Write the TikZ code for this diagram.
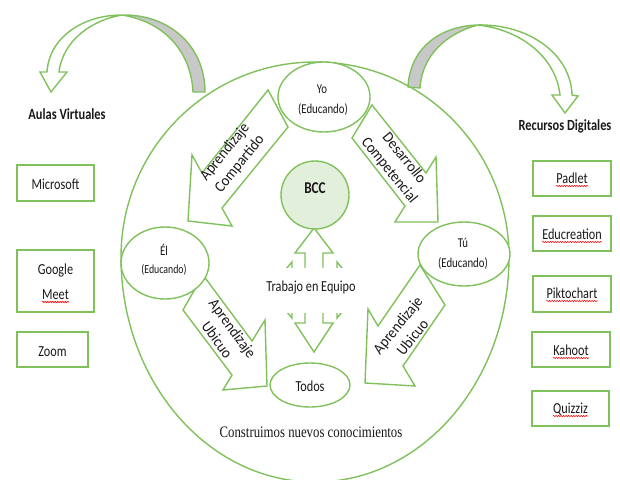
\documentclass[tikz,border=0pt]{standalone}
\usepackage{fontspec}
\setmainfont{Carlito}
\newfontfamily\condf[FakeStretch=0.8]{Carlito}
\newfontfamily\arrf[FakeStretch=0.92]{Carlito}
\newfontfamily\timesf[FakeStretch=0.8]{Liberation Serif}
\usetikzlibrary{shapes.geometric,calc,decorations.pathmorphing}
\definecolor{lgreen}{RGB}{128,193,92}
\definecolor{bccfill}{RGB}{226,239,218}
\definecolor{tailgray}{RGB}{200,200,200}
\definecolor{txt}{RGB}{25,25,25}
\begin{document}
\begin{tikzpicture}[x=1pt,y=-1pt,
  gline/.style={draw=lgreen, line width=1.4pt},
  blockarr/.style={gline, fill=white, line join=miter},
  tailpart/.style={gline, fill=tailgray},
  oval/.style={ellipse, gline, fill=white, inner sep=0pt},
  itembox/.style={rectangle, gline, fill=white, inner sep=0pt},
  lbl/.style={inner sep=0pt, anchor=base, text=txt, font=\condf\fontsize{15.3}{18}\selectfont},
  small/.style={inner sep=0pt, anchor=base, text=txt, font=\condf\fontsize{13.5}{16}\selectfont},
  arrtext/.style={align=center, inner sep=0pt, text=txt, font=\arrf\fontsize{15.5}{19}\selectfont},
  heading/.style={inner sep=0pt, anchor=base, text=txt, font=\condf\fontsize{15.5}{18}\selectfont\bfseries},
  squig/.style={draw=red, line width=0.6pt, decorate, decoration={snake, amplitude=0.6pt, segment length=2.5pt}}]
\fill[white] (0,0) rectangle (620,479);
\useasboundingbox (0,0) rectangle (620,479);

% big outline
\draw[gline] (121,257) arc[start angle=180, end angle=360, x radius=194, y radius=195]
  arc[start angle=0, end angle=180, x radius=194, y radius=225];

% curved arrows
\draw[tailpart] (122,15) .. controls (168,14) and (205,45) .. (205,92) -- (193,92)
  .. controls (191,52) and (165,22) .. (122,15) -- cycle;
\draw[blockarr] (122,15) .. controls (82,15) and (49,38) .. (47,72) -- (40,72) -- (51,92)
  -- (67,72) -- (59,72) .. controls (63,40) and (92,20) .. (122,15) -- cycle;
\draw[tailpart] (478,25) .. controls (440,26) and (410,48) .. (408,87) -- (420,88)
  .. controls (422,55) and (447,33) .. (478,25) -- cycle;
\draw[blockarr] (478,25) .. controls (530,24) and (571,55) .. (572,95) -- (578,96) -- (565,113)
  -- (552,95) -- (560,95) .. controls (556,58) and (522,30) .. (478,25) -- cycle;

% block arrows
\draw[blockarr] (268,90) -- (288,127) -- (222,208) -- (232,226) -- (188,221) -- (192,155) -- (202,173) -- cycle;
\draw[blockarr] (372,105) -- (352,138) -- (405,206) -- (395,222) -- (438,222) -- (436,157) -- (426,173) -- cycle;
\draw[blockarr] (203,275) -- (252,341) -- (265,320) -- (267,386) -- (223,390) -- (232,375) -- (183,310) -- cycle;
\draw[blockarr] (420,265) -- (378,326) -- (368,309) -- (365,383) -- (415,386) -- (403,366) -- (445,305) -- cycle;

% quad arrow
\draw[blockarr] (314,228) -- (333,253) -- (323,253) -- (323,281) -- (337,281) -- (337,262) -- (360,290)
  -- (337,318) -- (337,299) -- (323,299) -- (323,323) -- (333,323) -- (314,352) -- (295,323)
  -- (305,323) -- (305,299) -- (292,299) -- (292,318) -- (268,290) -- (292,262) -- (292,281)
  -- (305,281) -- (305,253) -- (295,253) -- cycle;
\fill[white] (262,268) rectangle (366,313);
\node[lbl] (team) at (311,291) {Trabajo en Equipo};

% ovals
\node[oval, minimum width=92pt, minimum height=70pt] (yo) at (324,97) {};
\node[oval, minimum width=88pt, minimum height=72pt] (el) at (165,263) {};
\node[oval, minimum width=92pt, minimum height=64pt] (tu) at (464,254) {};
\node[oval, minimum width=80pt, minimum height=44pt] (todos) at (310,385) {};
\node[circle, gline, fill=bccfill, minimum size=68pt, inner sep=0pt] (bcc) at (315,195) {};
\node[small] (yo1) at (322,93) {Yo};
\node[small] (yo2) at (323,113) {(Educando)};
\node[small] (el1) at (164,255) {Él};
\node[small, font=\condf\fontsize{12.3}{15}\selectfont] (el2) at (164,273) {(Educando)};
\node[small] (tu1) at (463,247) {Tú};
\node[small] (tu2) at (463,267) {(Educando)};
\node[lbl] (todost) at (310,391) {Todos};
\node[lbl, font=\condf\fontsize{16.5}{18}\selectfont\bfseries] (bcct) at (315,193) {BCC};

% arrow texts
\node[arrtext, rotate=51] (t1) at (232.5,158) {Aprendizaje\\Compartido};
\node[arrtext, rotate=-51] (t2) at (396.5,164.5) {Desarrollo\\Competencial};
\node[arrtext, rotate=-54] (t3) at (225,334) {Aprendizaje\\Ubicuo};
\node[arrtext, rotate=51] (t4) at (405,331) {Aprendizaje\\Ubicuo};

\node[lbl, font=\timesf\fontsize{16}{18}\selectfont] (cons) at (311,437) {Construimos nuevos conocimientos};

% headings
\node[heading] (aulas) at (67,119) {Aulas Virtuales};
\node[heading] (recursos) at (565,130) {Recursos Digitales};

% boxes
\node[itembox, minimum width=77pt, minimum height=36pt] (ms) at (55.5,183) {};
\node[itembox, minimum width=77pt, minimum height=62pt] (gm) at (55.5,281) {};
\node[itembox, minimum width=71pt, minimum height=35pt] (zm) at (52.5,349.5) {};
\node[itembox, minimum width=78pt, minimum height=35pt] (pad) at (572,178.5) {};
\node[itembox, minimum width=78pt, minimum height=35pt] (edu) at (572,233.5) {};
\node[itembox, minimum width=78pt, minimum height=36pt] (pik) at (572,294) {};
\node[itembox, minimum width=78pt, minimum height=35pt] (kah) at (571,349.5) {};
\node[itembox, minimum width=77pt, minimum height=35pt] (qui) at (570.5,408.5) {};

\node[lbl] (mst) at (55.5,189) {Microsoft};
\node[lbl] (gmt1) at (55.5,274) {Google};
\node[lbl] (gmt2) at (55.5,299) {Meet};
\node[lbl] (zmt) at (52.5,356) {Zoom};
\node[lbl] (padt) at (572,183) {Padlet};
\node[lbl] (edut) at (572,239) {Educreation};
\node[lbl] (pikt) at (572,298) {Piktochart};
\node[lbl] (kaht) at (571,355) {Kahoot};
\node[lbl] (quit) at (570.5,413) {Quizziz};
\foreach \w in {gmt2,padt,edut,pikt,kaht,quit}
  \draw[squig] ([yshift=-3pt]\w.base west) -- ([yshift=-3pt]\w.base east);
\end{tikzpicture}
\end{document}
